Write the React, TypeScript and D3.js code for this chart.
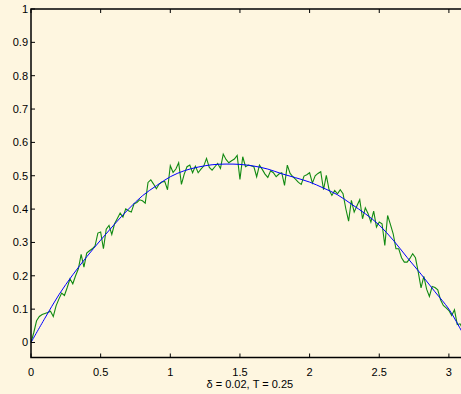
import * as d3 from "d3";

// sample spacing and noisy samples (green)
const delta = 0.02;
const noisy = [
  0.0, 0.03, 0.065, 0.078, 0.084, 0.087, 0.09, 0.094, 0.078, 0.11,
  0.13, 0.148, 0.141, 0.165, 0.191, 0.176, 0.2, 0.221, 0.264, 0.226,
  0.268, 0.275, 0.281, 0.29, 0.328, 0.331, 0.281, 0.34, 0.351, 0.324,
  0.356, 0.372, 0.388, 0.376, 0.401, 0.395, 0.391, 0.416, 0.42, 0.428,
  0.425, 0.418, 0.48, 0.488, 0.475, 0.461, 0.475, 0.481, 0.483, 0.458,
  0.53, 0.51, 0.52, 0.539, 0.474, 0.505, 0.527, 0.532, 0.509, 0.529,
  0.509, 0.52, 0.529, 0.552, 0.525, 0.517, 0.527, 0.537, 0.522, 0.565,
  0.549, 0.539, 0.545, 0.55, 0.561, 0.489, 0.557, 0.527, 0.532, 0.53,
  0.527, 0.497, 0.532, 0.519, 0.505, 0.495, 0.515, 0.509, 0.497, 0.505,
  0.509, 0.471, 0.532, 0.507, 0.497, 0.489, 0.48, 0.474, 0.499, 0.503,
  0.509, 0.478, 0.5, 0.507, 0.512, 0.458, 0.501, 0.458, 0.441, 0.456,
  0.446, 0.458, 0.446, 0.401, 0.364, 0.426, 0.391, 0.41, 0.428, 0.371,
  0.404, 0.386, 0.361, 0.394, 0.346, 0.361, 0.356, 0.291, 0.381, 0.354,
  0.326, 0.281, 0.281, 0.254, 0.241, 0.241, 0.252, 0.266, 0.254, 0.211,
  0.164, 0.198, 0.16, 0.138, 0.168, 0.165, 0.158, 0.128, 0.111, 0.104,
  0.096, 0.081, 0.098, 0.054, 0.056, 0.04, 0.02, 0.0,
];

// smooth curve (blue)
const smoothX = [
  0, 0.1, 0.2, 0.3, 0.4, 0.5, 0.6, 0.7, 0.8, 0.9, 1.0, 1.1, 1.2, 1.3, 1.4, 1.5,
  1.6, 1.7, 1.8, 1.9, 2.0, 2.1, 2.2, 2.3, 2.4, 2.5, 2.6, 2.7, 2.8, 2.9, 3.0,
  3.1, Math.PI,
];
const smoothY = [
  0, 0.073, 0.143, 0.203, 0.257, 0.307, 0.355, 0.4, 0.44, 0.47, 0.497, 0.515,
  0.526, 0.533, 0.535, 0.534, 0.529, 0.52, 0.506, 0.494, 0.481, 0.463, 0.443,
  0.415, 0.386, 0.352, 0.307, 0.255, 0.205, 0.152, 0.1, 0.028, 0,
];

const xTicks = [0, 0.5, 1, 1.5, 2, 2.5, 3];
const yTicks = [0, 0.1, 0.2, 0.3, 0.4, 0.5, 0.6, 0.7, 0.8, 0.9, 1];
const xLabel = "\u03b4 = 0.02, T = 0.25";

const W = 461;
const H = 394;
const left = 31;
const top = 9;
const bottom = 357.5;

export default function App() {
  const x = d3.scaleLinear().domain([0, Math.PI]).range([left, left + Math.PI * 139.3]);
  const y = d3.scaleLinear().domain([-0.045, 1]).range([bottom, top]);
  const right = x(Math.PI);

  const greenLine = d3
    .line<number>()
    .x((_, i) => x(i * delta))
    .y((d) => y(d));

  const blueLine = d3
    .line<number>()
    .x((_, i) => x(smoothX[i]))
    .y((d) => y(d))
    .curve(d3.curveCatmullRom);

  const font = "'Liberation Sans', Arial, sans-serif";

  return (
    <div style={{ position: "fixed", left: 0, top: 0 }}>
      <svg width={W} height={H} style={{ display: "block" }}>
        <rect width={W} height={H} fill="#fef6e0" />
        <path d={greenLine(noisy) ?? ""} fill="none" stroke="#128a12" strokeWidth={1.1} />
        <path d={blueLine(smoothY) ?? ""} fill="none" stroke="#0000ff" strokeWidth={1} />

        {/* axes box */}
        <rect
          x={left}
          y={top}
          width={right - left}
          height={bottom - top}
          fill="none"
          stroke="#000"
          strokeWidth={1.5}
        />

        {xTicks.map((t) => (
          <g key={"x" + t}>
            <line x1={x(t)} x2={x(t)} y1={bottom} y2={bottom - 4} stroke="#000" />
            <line x1={x(t)} x2={x(t)} y1={top} y2={top + 4} stroke="#000" />
            <text
              x={x(t)}
              y={bottom + 18}
              textAnchor="middle"
              fontFamily={font}
              fontSize={11}
              fill="#000"
            >
              {t}
            </text>
          </g>
        ))}

        {yTicks.map((t) => (
          <g key={"y" + t}>
            <line x1={left} x2={left + 4} y1={y(t)} y2={y(t)} stroke="#000" />
            <text
              x={left - 3}
              y={y(t)}
              dy="0.35em"
              textAnchor="end"
              fontFamily={font}
              fontSize={11}
              fill="#000"
            >
              {t}
            </text>
          </g>
        ))}

        <text
          x={(left + right) / 2}
          y={388}
          textAnchor="middle"
          fontFamily={font}
          fontSize={11}
          fill="#000"
        >
          {xLabel}
        </text>
      </svg>
    </div>
  );
}
